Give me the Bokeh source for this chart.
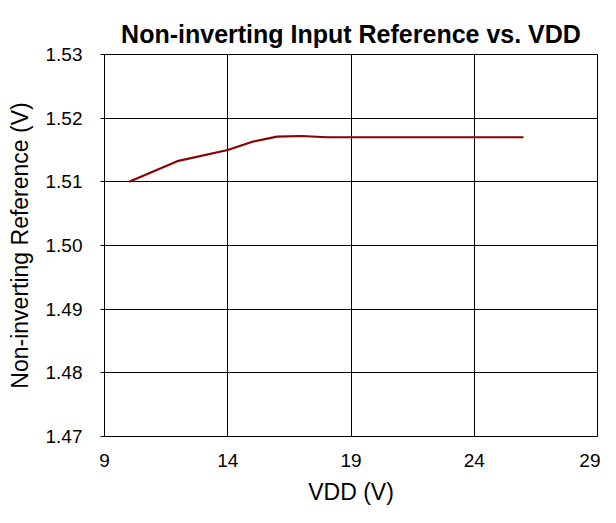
from bokeh.plotting import figure
from bokeh.models import FixedTicker, NumeralTickFormatter, Range1d
from bokeh.embed import file_html
from bokeh.resources import INLINE

vdd = [10, 12, 14, 15, 16, 17, 18, 20, 22, 24, 26]
vref = [1.5100, 1.5133, 1.5150, 1.5163, 1.5171, 1.5172, 1.5170, 1.5170, 1.5170, 1.5170, 1.5170]
x_ticks = [9, 14, 19, 24, 29]
y_ticks = [1.47, 1.48, 1.49, 1.50, 1.51, 1.52, 1.53]

FONT = "Liberation Sans"

p = figure(width=600, height=507, output_backend="svg", toolbar_location=None,
           x_range=Range1d(9, 29), y_range=Range1d(1.47, 1.53),
           min_border_left=104, min_border_right=3, min_border_top=54, min_border_bottom=68,
           title="Non-inverting Input Reference vs. VDD")

p.line(vdd, vref, line_color="#8B0000", line_width=2.2)

p.title.align = "center"
p.title.text_font = FONT
p.title.text_font_size = "25px"
p.title.text_font_style = "bold"
p.title.text_color = "black"
p.title.standoff = 13

p.outline_line_color = "black"
p.outline_line_width = 1

p.xaxis.ticker = FixedTicker(ticks=x_ticks)
p.yaxis.ticker = FixedTicker(ticks=y_ticks)
p.yaxis.formatter = NumeralTickFormatter(format="0.00")

for ax in p.xaxis + p.yaxis:
    ax.axis_line_color = "black"
    ax.major_tick_line_color = "black"
    ax.minor_tick_line_color = None
    ax.major_tick_in = 0
    ax.major_label_text_font = FONT
    ax.major_label_text_font_size = "19px"
    ax.major_label_text_color = "black"
    ax.axis_label_text_font = FONT
    ax.axis_label_text_font_size = "23px"
    ax.axis_label_text_font_style = "normal"
    ax.axis_label_text_color = "black"

p.xaxis.major_tick_out = 0
p.xaxis.major_label_standoff = 17
p.xaxis.axis_label = "VDD (V)"
p.xaxis.axis_label_standoff = 9
p.yaxis.major_tick_out = 4
p.yaxis.major_label_standoff = 18
p.yaxis.axis_label = "Non-inverting Reference (V)"
p.yaxis.axis_label_standoff = 10

p.xgrid.grid_line_color = "black"
p.ygrid.grid_line_color = "black"
p.xgrid.grid_line_width = 1
p.ygrid.grid_line_width = 1

open("out.html", "w").write(file_html(p, INLINE))
